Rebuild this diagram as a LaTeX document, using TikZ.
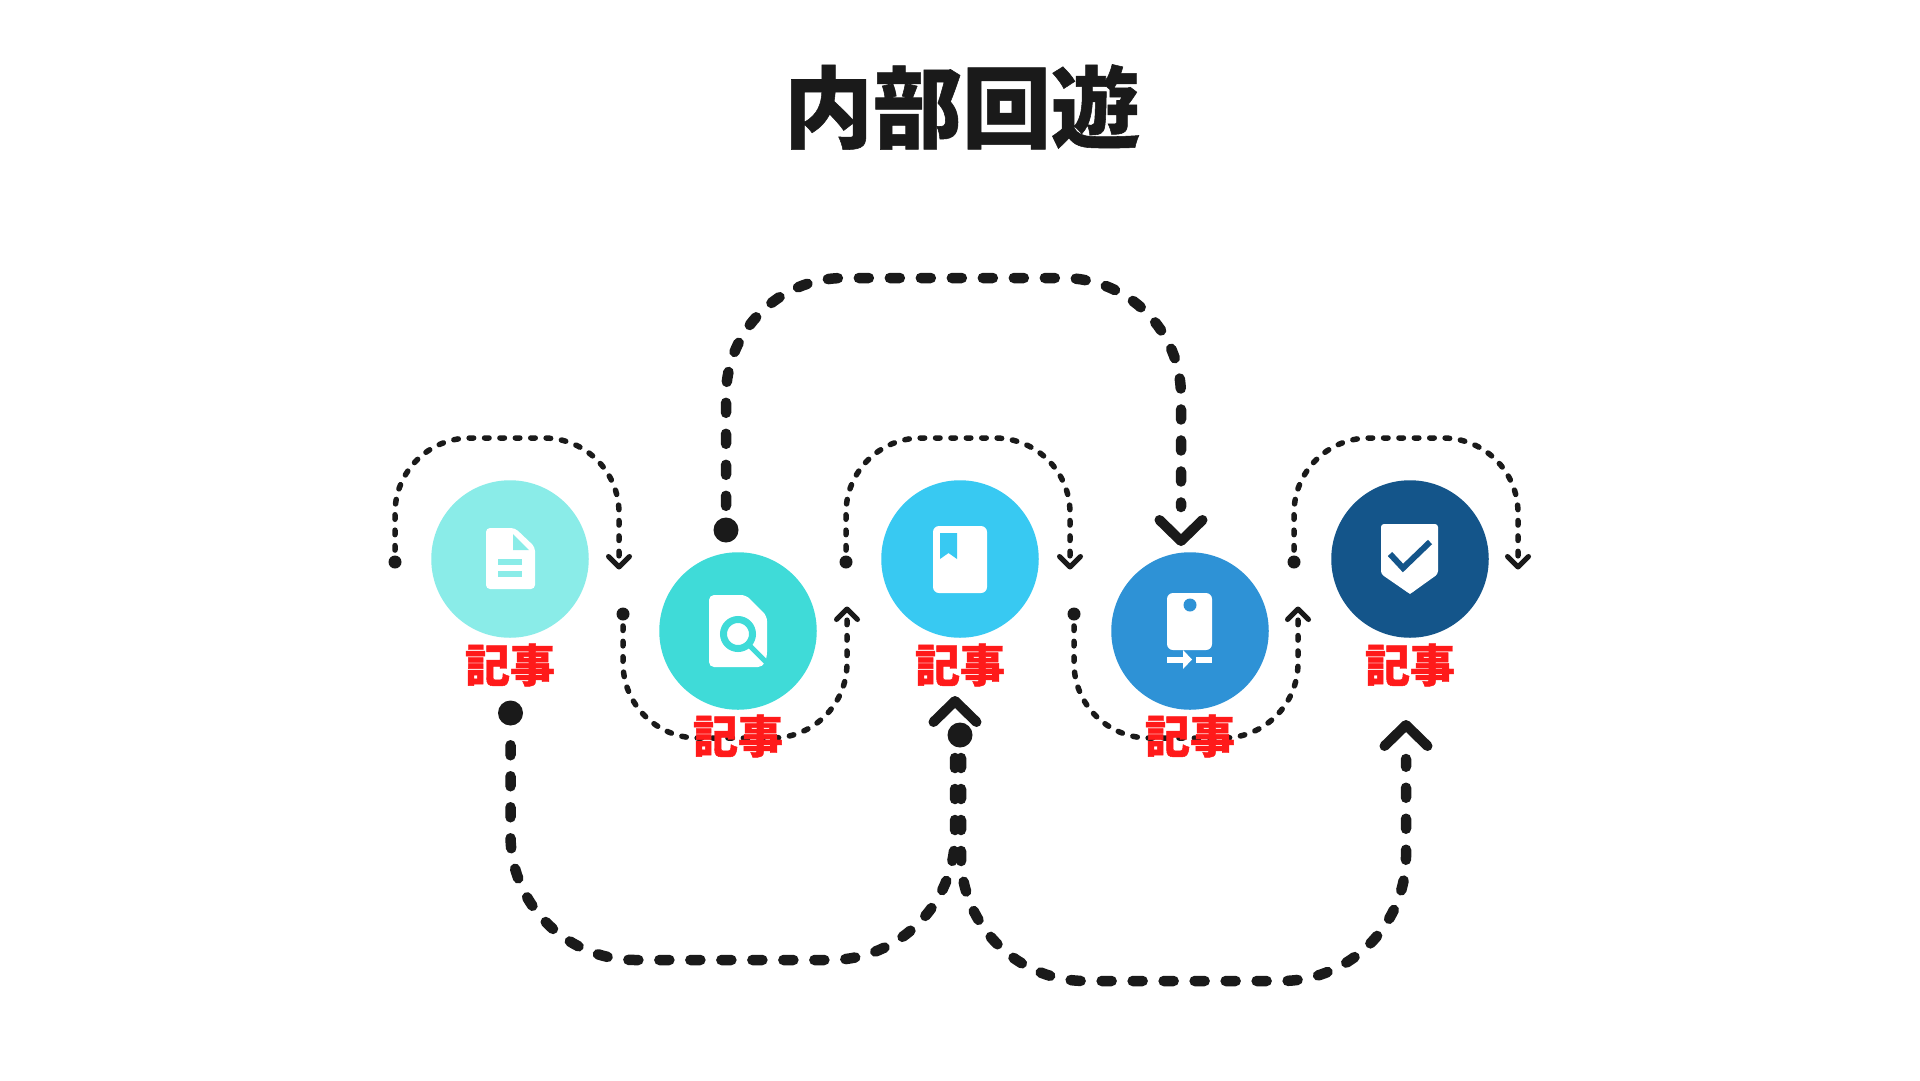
\documentclass[tikz,border=0pt]{standalone}
\usepackage{fontspec}
\newfontfamily\ttlfont[FakeBold=0.6]{Noto Sans CJK JP Black}
\newfontfamily\lblfont[FakeBold=1]{Noto Sans CJK JP Black}
\definecolor{ink}{HTML}{1A1A1A}
\definecolor{cA}{HTML}{8AECE8}
\definecolor{cB}{HTML}{3FDBD8}
\definecolor{cC}{HTML}{38C9F2}
\definecolor{cD}{HTML}{2E92D6}
\definecolor{cE}{HTML}{14558A}
\definecolor{lab}{HTML}{FF1A1A}
\tikzset{
  disc/.style={circle,minimum size=157.5pt,inner sep=0pt,fill=#1},
  title/.style={font=\ttlfont\fontsize{89}{100}\selectfont,text=ink,inner sep=0pt},
  lbl/.style={font=\lblfont\fontsize{45}{50}\selectfont,text=lab,inner sep=0pt},
  dotS/.style={circle,fill=ink,minimum size=13pt,inner sep=0pt},
  dotL/.style={circle,fill=ink,minimum size=25pt,inner sep=0pt},
  linkS/.style={draw=ink,line width=5.5pt,line cap=round,dash pattern=on 4.5pt off 10.9pt,rounded corners=75pt,shorten <=5.25pt,shorten >=11pt},
  linkL/.style={draw=ink,line width=10.5pt,line cap=round,dash pattern=on 10pt off 21pt,shorten <=11.5pt,shorten >=34pt},
  chevS/.style={draw=ink,line width=5pt,line cap=round,line join=round},
  chevL/.style={draw=ink,line width=10pt,line cap=round,line join=round},
  ico/.style={fill=white,draw=none},
}
\begin{document}
\begin{tikzpicture}[x=1pt,y=-1pt]
\useasboundingbox (0,0) rectangle (1920,1080);
\fill[white] (0,0) rectangle (1920,1080);

% discs
\node[disc=cA] (n1) at (510,559) {};
\node[disc=cB] (n2) at (738,631) {};
\node[disc=cC] (n3) at (960,559) {};
\node[disc=cD] (n4) at (1190,631) {};
\node[disc=cE] (n5) at (1410,559) {};

% dots and chevron apex points
\node[dotS] (a1) at (395,562) {};
\node[dotS] (a2) at (623,614) {};
\node[dotS] (a3) at (846,562) {};
\node[dotS] (a4) at (1074,614) {};
\node[dotS] (a5) at (1294,562) {};
\coordinate (b1) at (619,567);
\coordinate (b2) at (847,609);
\coordinate (b3) at (1070,567);
\coordinate (b4) at (1298,609);
\coordinate (b5) at (1518,567);
\coordinate (ytop) at (0,438);
\coordinate (ybot) at (0,738);

\node[dotL] (p1) at (726,530) {};
\node[dotL] (p2) at (510.5,713) {};
\node[dotL] (p3) at (960,735) {};
\coordinate (q1) at (1181,541);
\coordinate (q2) at (955,701);
\coordinate (q3) at (1406,725);
\coordinate (ya) at (0,278);
\coordinate (yb) at (0,960);
\coordinate (yc) at (0,981);

% small loops
\draw[linkS] (a1) -- (a1 |- ytop) -- (b1 |- ytop) -- (b1);
\draw[linkS] (a3) -- (a3 |- ytop) -- (b3 |- ytop) -- (b3);
\draw[linkS] (a5) -- (a5 |- ytop) -- (b5 |- ytop) -- (b5);
\draw[linkS] (a2) -- (a2 |- ybot) -- (b2 |- ybot) -- (b2);
\draw[linkS] (a4) -- (a4 |- ybot) -- (b4 |- ybot) -- (b4);

% large loops
\draw[linkL,rounded corners=118pt] (p1) -- (p1 |- ya) -- (q1 |- ya) -- (q1);
\draw[linkL,rounded corners=125pt,shorten <=57pt,shorten >=11.5pt] (q2) -- (q2 |- yb) -- (p2 |- yb) -- (p2);
\draw[linkL,rounded corners=125pt,shorten <=23pt] (p3) ++(1,0) -- ++(0,246) -- (q3 |- yc) -- (q3);

% chevrons
\foreach \t in {b1,b3,b5} \draw[chevS] (\t) ++(-10.5,-10.5) -- (\t) -- ++(10.5,-10.5);
\foreach \t in {b2,b4} \draw[chevS] (\t) ++(-10.5,10.5) -- (\t) -- ++(10.5,10.5);
\draw[chevL] (q1) ++(-21.5,-21) -- (q1) -- ++(21.5,-21);
\foreach \t in {q2,q3} \draw[chevL] (\t) ++(-21.5,21) -- (\t) -- ++(21.5,21);

% icon 1: document
\fill[ico,rounded corners=4pt] (486,528) -- (515,528) -- (535,547) -- (535,589) -- (486,589) -- cycle;
\fill[cA] (513,534) -- (513,550) -- (529,550) -- cycle;
\fill[cA] (498,559) rectangle (522,565);
\fill[cA] (498,571) rectangle (522,577);

% icon 2: search document
\fill[ico,rounded corners=5pt] (709,595) -- (746,595) -- (767,616) -- (767,657) -- (763,667) -- (709,667) -- cycle;
\draw[cB,line width=7pt] (738,634) circle (14.5pt);
\draw[cB,line width=5pt] (749,645) -- (769,665);

% icon 3: book
\fill[ico,rounded corners=6pt] (933,526) rectangle (987,593);
\fill[cC] (940,533) -- (957,533) -- (957,559) -- (948.5,553) -- (940,559) -- cycle;

% icon 4: device
\fill[ico,rounded corners=6pt] (1167,593) rectangle (1212,650);
\fill[cD] (1190,605) circle (6.5pt);
\fill[ico] (1167,657) rectangle (1183,663);
\fill[ico] (1183,650) -- (1192,659.5) -- (1183,669) -- cycle;
\fill[ico] (1196,657) rectangle (1212,663);

% icon 5: shield
\fill[ico,rounded corners=3pt] (1381,524) -- (1438,524) -- (1438,574) -- (1410,594) -- (1381,574) -- cycle;
\fill[ico] (1410,594) -- (1396,583) -- (1424,583) -- cycle;
\draw[cE,line width=6pt] (1390,554) -- (1403,568) -- (1430,542);

% labels
\node[title] (t) at (962,107) {内部回遊};
\node[lbl] (l1) at (510,665) {記事};
\node[lbl] (l2) at (738,736) {記事};
\node[lbl] (l3) at (960,665) {記事};
\node[lbl] (l4) at (1190,736) {記事};
\node[lbl] (l5) at (1410,665) {記事};
\end{tikzpicture}
\end{document}
